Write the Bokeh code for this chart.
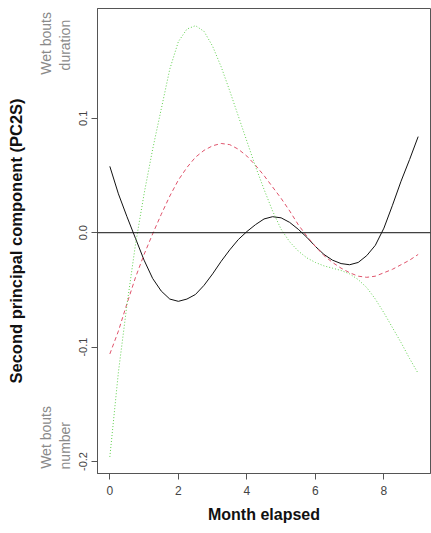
from bokeh.plotting import figure
from bokeh.models import FixedTicker, CustomJSTickFormatter, Span, LinearAxis
from bokeh.embed import file_html
from bokeh.resources import INLINE

# ---- data ----
months = [0.0, 0.25, 0.5, 0.75, 1.0, 1.25, 1.5, 1.75, 2.0, 2.25, 2.5, 2.75,
          3.0, 3.25, 3.5, 3.75, 4.0, 4.25, 4.5, 4.75, 5.0, 5.25, 5.5, 5.75,
          6.0, 6.25, 6.5, 6.75, 7.0, 7.25, 7.5, 7.75, 8.0, 8.25, 8.5, 8.75, 9.0]

pc2s_solid = [0.058, 0.034, 0.014, -0.005, -0.024, -0.040, -0.051, -0.058, -0.060,
              -0.058, -0.054, -0.046, -0.036, -0.025, -0.015, -0.006, 0.001, 0.007,
              0.012, 0.014, 0.013, 0.009, 0.003, -0.004, -0.012, -0.019, -0.024,
              -0.027, -0.028, -0.026, -0.020, -0.011, 0.004, 0.024, 0.045, 0.064, 0.084]

pc2s_dashed = [-0.106, -0.086, -0.062, -0.039, -0.019, -0.001, 0.016, 0.032, 0.046,
               0.057, 0.066, 0.072, 0.076, 0.078, 0.077, 0.073, 0.067, 0.059, 0.050,
               0.040, 0.030, 0.019, 0.007, -0.003, -0.012, -0.020, -0.026, -0.031,
               -0.035, -0.038, -0.039, -0.038, -0.035, -0.032, -0.028, -0.024, -0.019]

pc2s_dotted = [-0.196, -0.122, -0.063, -0.010, 0.034, 0.073, 0.108, 0.143, 0.167,
               0.178, 0.181, 0.176, 0.163, 0.145, 0.124, 0.102, 0.080, 0.058, 0.038,
               0.019, 0.003, -0.008, -0.016, -0.022, -0.026, -0.029, -0.031, -0.033,
               -0.036, -0.041, -0.048, -0.058, -0.070, -0.083, -0.096, -0.110, -0.123]

x_ticks = [0, 2, 4, 6, 8]
y_ticks = [-0.2, -0.1, 0.0, 0.1]

FONT = "Liberation Sans"
GRAY = "#8a8a8a"

p = figure(width=431, height=533, output_backend="svg", toolbar_location=None,
           x_range=(-0.36, 9.36), y_range=(-0.2105, 0.196),
           min_border_left=97, min_border_right=1, min_border_top=8,
           min_border_bottom=60)

p.background_fill_color = "white"
p.border_fill_color = "white"
p.outline_line_color = "#555555"
p.outline_line_width = 1
p.grid.visible = False

# main axes
p.xaxis.ticker = FixedTicker(ticks=x_ticks)
p.yaxis.ticker = FixedTicker(ticks=y_ticks)
p.yaxis.formatter = CustomJSTickFormatter(code="return tick.toFixed(1)")
p.yaxis.major_label_orientation = "vertical"

for ax in (p.xaxis[0], p.yaxis[0]):
    ax.axis_line_color = "#555555"
    ax.major_tick_line_color = "#555555"
    ax.major_tick_out = 6
    ax.major_tick_in = 0
    ax.minor_tick_line_color = None
    ax.major_label_text_font = FONT
    ax.major_label_text_color = "#444444"

p.xaxis.major_label_text_font_size = "12px"
p.yaxis.major_label_text_font_size = "11px"
p.xaxis.major_label_standoff = 6
p.yaxis.major_label_standoff = 4
p.xaxis.axis_label = "Month elapsed"
p.xaxis.axis_label_text_font = FONT
p.xaxis.axis_label_text_font_style = "bold"
p.xaxis.axis_label_text_color = "#111111"
p.xaxis.axis_label_text_font_size = "16px"
p.xaxis.axis_label_standoff = 8


def text_axis(ticks, code, standoff):
    ax = LinearAxis(ticker=FixedTicker(ticks=ticks),
                    formatter=CustomJSTickFormatter(code=code))
    ax.axis_line_color = None
    ax.major_tick_line_color = None
    ax.minor_tick_line_color = None
    ax.major_tick_out = 0
    ax.major_tick_in = 0
    ax.major_label_orientation = "vertical"
    ax.major_label_standoff = standoff
    ax.major_label_text_font = FONT
    ax.major_label_text_font_size = "14px"
    ax.major_label_text_color = GRAY
    return ax


# side annotations: second column ("duration" / "number")
ax2 = text_axis([0.1640, -0.1862], "return tick > 0 ? 'duration' : 'number'", 3)
p.add_layout(ax2, "left")
# outer column ("Wet bouts" twice) carrying the y-axis title
ax3 = text_axis([0.1655, -0.1790], "return 'Wet bouts'", 0)
ax3.axis_label = "Second principal component (PC2S)"
ax3.axis_label_text_font = FONT
ax3.axis_label_text_font_style = "bold"
ax3.axis_label_text_color = "#111111"
ax3.axis_label_text_font_size = "16.5px"
ax3.axis_label_standoff = 11
p.add_layout(ax3, "left")

# zero line
p.add_layout(Span(location=0, dimension="width", line_color="#111111", line_width=1))

# curves
p.line(months, pc2s_solid, line_color="#111111", line_width=1)
p.line(months, pc2s_dashed, line_color="#DF536B", line_width=1, line_dash="4 3")
p.line(months, pc2s_dotted, line_color="#61D04F", line_width=1, line_dash="1 2")

open("out.html", "w").write(file_html(p, INLINE))
